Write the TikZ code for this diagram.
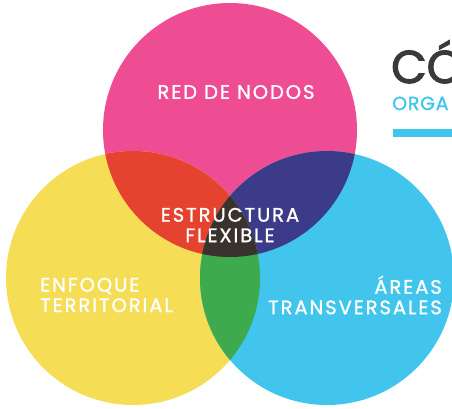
\documentclass[tikz,border=0pt]{standalone}
\usepackage{fontspec}
\setmainfont{Poppins}
\newfontfamily\venfont{Poppins}[LetterSpace=10,FakeBold=1.3]
\newfontfamily\subfont{Poppins}[LetterSpace=4,FakeBold=1.3]
\newfontfamily\titulofont{Poppins}[FakeBold=2.6]
\usepackage{tikz}
\usetikzlibrary{positioning}

\definecolor{rosa}{HTML}{EE4D94}
\definecolor{amarillo}{HTML}{F5DD55}
\definecolor{celeste}{HTML}{41C5EC}
\definecolor{rojo}{HTML}{E5432F}
\definecolor{morado}{HTML}{3C3B89}
\definecolor{verde}{HTML}{3EAA4E}
\definecolor{oscuro}{HTML}{3A332D}
\definecolor{gris}{HTML}{3A3A3A}

\begin{document}
\begin{tikzpicture}[x=1pt, y=-1pt,
                    label node/.style={text=white,font=\venfont\fontsize{19.5}{20.5}\selectfont,inner sep=0pt}]

  \useasboundingbox (0,0) rectangle (452,408);

  % los tres circulos
  \coordinate (nodos) at (230,130);
  \coordinate (territorio) at (133,278);
  \coordinate (areas) at (327,278);

  \fill[rosa] (nodos) circle (127pt);
  \fill[amarillo] (territorio) circle (127pt);
  \fill[celeste] (areas) circle (127pt);

  % cruces
  \begin{scope}
    \clip (nodos) circle (127pt);
    \fill[rojo] (territorio) circle (127pt);
    \fill[morado] (areas) circle (127pt);
  \end{scope}
  \begin{scope}
    \clip (territorio) circle (127pt);
    \fill[verde] (areas) circle (127pt);
    \clip (nodos) circle (127pt);
    \fill[oscuro] (areas) circle (127pt);
  \end{scope}

  % textos
  \node[label node] (1) at (236,92) {RED DE NODOS};
  \node[label node,align=center] (2) at (230,225) {ESTRUCTURA\\FLEXIBLE};
  \node[label node,align=left,anchor=west] (3) at (40,295) {ENFOQUE\\TERRITORIAL};
  \node[label node,align=right,anchor=east] (4) at (442,295) {ÁREAS\\TRANSVERSALES};

  % titulo cortado
  \node[text=gris,font=\titulofont\fontsize{46}{46}\selectfont,anchor=base west,inner sep=0pt] (5) at (391,83) {CÓ};
  \node[text=celeste,font=\subfont\fontsize{19}{20}\selectfont,anchor=base west,inner sep=0pt] (6) at (392,110) {ORGA};
  \fill[celeste] (393,129) rectangle (452,137);
\end{tikzpicture}
\end{document}
